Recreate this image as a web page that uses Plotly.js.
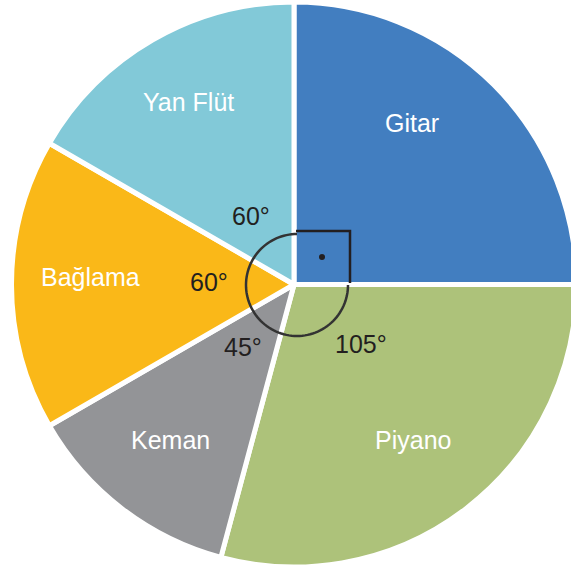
<!DOCTYPE html>
<html>
<head>
<meta charset="utf-8">
<script src="https://cdn.plot.ly/plotly-3.0.1.min.js"></script>
<style>
html,body{margin:0;padding:0;width:571px;height:572px;overflow:hidden;background:#fff;}
#chart{width:588px;height:572px;}
</style>
</head>
<body>
<div id="chart"></div>
<script>
// Data
var instruments = ['Gitar', 'Piyano', 'Keman', 'Bağlama', 'Yan Flüt'];
var degrees = [90, 105, 45, 60, 60];
var colors = ['#427EC0', '#ADC27A', '#939497', '#FAB818', '#82C9D8'];

var W = 588, H = 572;
var cx = 294, cy = 285, R = 282.5;
function px(x){ return x / W; }
function py(y){ return 1 - y / H; }

var total = degrees.reduce(function(a,b){return a+b;},0);

var pie = {
  type: 'pie',
  labels: instruments,
  values: degrees,
  sort: false,
  direction: 'clockwise',
  rotation: 0,
  textinfo: 'none',
  hoverinfo: 'label+value',
  marker: {colors: colors, line: {color: '#ffffff', width: 5}},
  domain: {x: [0, 1], y: [(H - 567) / H, (H - 2) / H]},
  showlegend: false
};

var annotations = [];
var shapes = [];
var cum = 0;
var angleAdjust = [0, 11, -2, -2, 2]; // small label offsets (deg)
var nameAdjust = [9, 0, -1, -2.3, 0];
var nameDist = [0.71, 0.69, 0.70, 0.72, 0.75];
var angDist = [0, 89, 80, 85, 81];
var FONT = 'Liberation Sans, Arial, sans-serif';
for (var i = 0; i < instruments.length; i++) {
  var v = degrees[i];
  var mid = 90 - (cum + v / 2) / total * 360;
  cum += v;
  var nd = nameDist[i] * R;
  var nr = (mid + nameAdjust[i]) * Math.PI / 180;
  annotations.push({
    xref: 'paper', yref: 'paper',
    x: px(cx + nd * Math.cos(nr)), y: py(cy - nd * Math.sin(nr)),
    text: instruments[i], showarrow: false,
    font: {family: FONT, size: 25, color: '#ffffff'},
    xanchor: 'center', yanchor: 'middle'
  });
  if (i > 0) {
    var a = (mid + angleAdjust[i]) * Math.PI / 180;
    var d = angDist[i];
    annotations.push({
      xref: 'paper', yref: 'paper',
      x: px(cx + d * Math.cos(a)), y: py(cy - d * Math.sin(a)),
      text: (v / total * 360) + '°', showarrow: false,
      font: {family: FONT, size: 25, color: '#231F20'},
      xanchor: 'center', yanchor: 'middle'
    });
  }
}

// angle arc (from top, counterclockwise round to the right side)
var acx = 297, acy = 285, ar = 51;
var path = '';
for (var t = 0; t <= 270; t += 3) {
  var ang = (90 + t) * Math.PI / 180;
  var X = acx + ar * Math.cos(ang), Y = acy - ar * Math.sin(ang);
  path += (t === 0 ? 'M' : 'L') + px(X).toFixed(5) + ',' + py(Y).toFixed(5);
}
shapes.push({type: 'path', xref: 'paper', yref: 'paper', path: path,
  line: {color: '#333333', width: 2.5}});
// right angle mark for Gitar
shapes.push({type: 'path', xref: 'paper', yref: 'paper',
  path: 'M' + px(296) + ',' + py(231) + 'L' + px(350) + ',' + py(231) + 'L' + px(350) + ',' + py(283),
  line: {color: '#231F20', width: 2.5}});
shapes.push({type: 'circle', xref: 'paper', yref: 'paper',
  x0: px(319), x1: px(325), y0: py(254), y1: py(260),
  fillcolor: '#231F20', line: {color: '#231F20', width: 0}});

var layout = {
  width: W, height: H,
  margin: {l: 0, r: 0, t: 0, b: 0, pad: 0},
  paper_bgcolor: '#ffffff',
  showlegend: false,
  annotations: annotations,
  shapes: shapes
};

Plotly.newPlot('chart', [pie], layout, {staticPlot: true, displayModeBar: false});
</script>
</body>
</html>
